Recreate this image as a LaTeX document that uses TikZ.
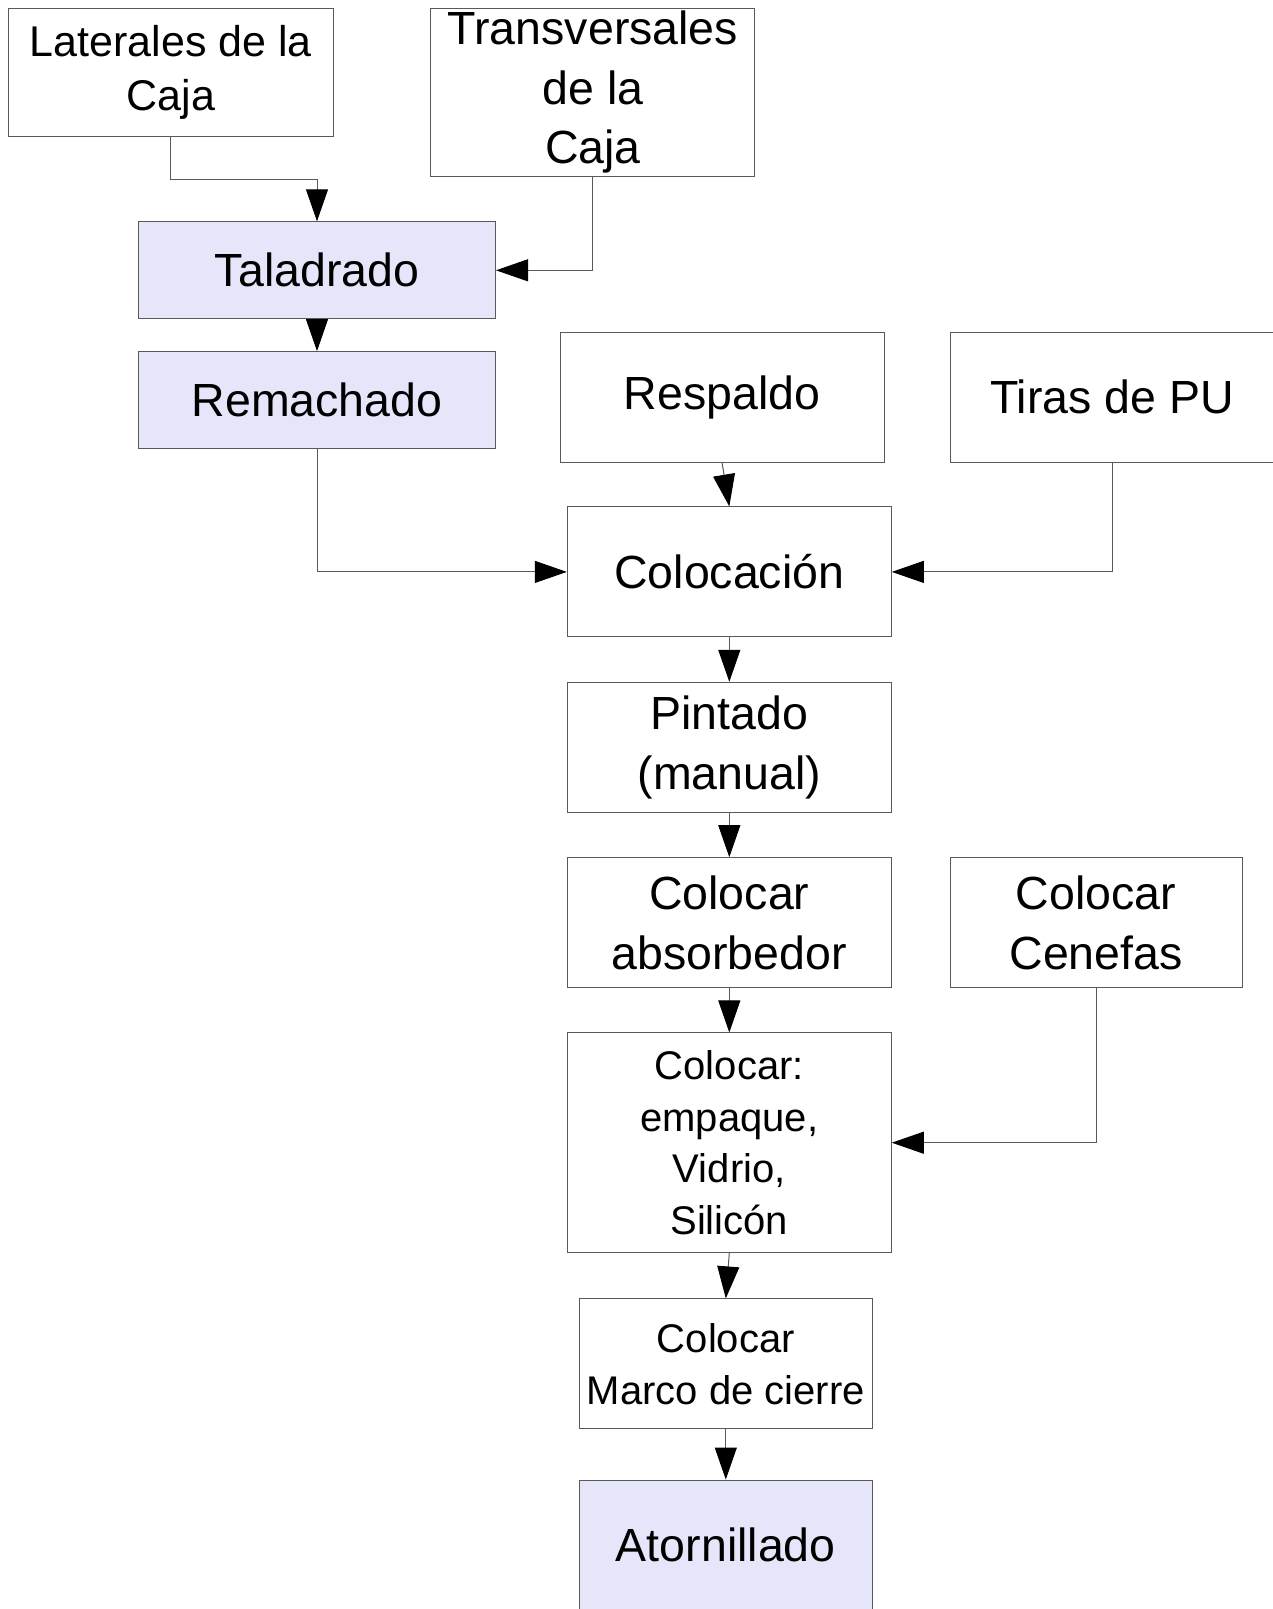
\documentclass[tikz,border=0pt]{standalone}
\usepackage{fontspec}
\setmainfont{Liberation Sans}
\usetikzlibrary{arrows.meta,positioning}
\definecolor{lila}{RGB}{230,230,250}
\newcommand{\fbig}{\fontsize{46.5}{59.5}\selectfont}
\newcommand{\fmid}{\fontsize{43}{54}\selectfont}
\newcommand{\fsmall}{\fontsize{40}{51.8}\selectfont}

\begin{document}
\begin{tikzpicture}[x=1pt,y=-1pt,
  box/.style={draw=black!65, line width=1pt, inner sep=0pt, align=center,
    minimum width=324pt, minimum height=130pt, font=\fbig},
  proc/.style={box, fill=lila, minimum width=357pt, minimum height=97pt},
  arr/.style={draw=black!65, line width=1pt,
    -{Triangle[length=32pt,width=22pt,color=black]}}]
  \useasboundingbox (0,0) rectangle (1273,1609);
  % entradas
  \node[box, font=\fmid, minimum width=325pt, minimum height=128pt] (lat) at (170.8,72.3) {Laterales de la\\Caja};
  \node[box, minimum height=168pt] (trans) at (592.9,92.3) {Transversales\\de la\\Caja};
  \node[proc] (tal) at (317,270.3) {Taladrado};
  \node[proc] (rem) at (317,400.1) {Remachado};
  \node[box] (resp) at (722,397) {Respaldo};
  \node[box] (tiras) at (1112,397) {Tiras de PU};
  % linea central
  \node[box] (col) at (729.3,571.9) {Colocación};
  \node[box] (pint) at (729.3,747.3) {Pintado\\(manual)};
  \node[box] (abs) at (729.3,922.7) {Colocar\\absorbedor};
  \node[box, minimum width=292pt] (cen) at (1096.1,922.7) {Colocar\\Cenefas};
  \node[box, font=\fsmall, minimum height=219.5pt] (colo) at (729.3,1142.7) {Colocar:\\empaque,\\Vidrio,\\Silicón};
  \node[box, font=\fsmall, minimum width=292.4pt] (marco) at (725.8,1363.9) {Colocar\\Marco de cierre};
  \node[box, fill=lila, minimum width=292.4pt] (ator) at (725.8,1545) {Atornillado};
  % conectores
  \draw[arr] (lat.south) -- ++(0,43) -| (tal.north);
  \draw[arr] (trans.south) |- (tal.east);
  \draw[arr] (tal) -- (rem);
  \draw[arr] (rem.south) |- (col.west);
  \draw[arr] (resp.south) -- (col.north);
  \draw[arr] (tiras.south) |- (col.east);
  \draw[arr] (col) -- (pint);
  \draw[arr] (pint) -- (abs);
  \draw[arr] (abs) -- (colo);
  \draw[arr] (cen.south) |- (colo.east);
  \draw[arr] (colo.south) -- (marco.north);
  \draw[arr] (marco) -- (ator);
\end{tikzpicture}
\end{document}
